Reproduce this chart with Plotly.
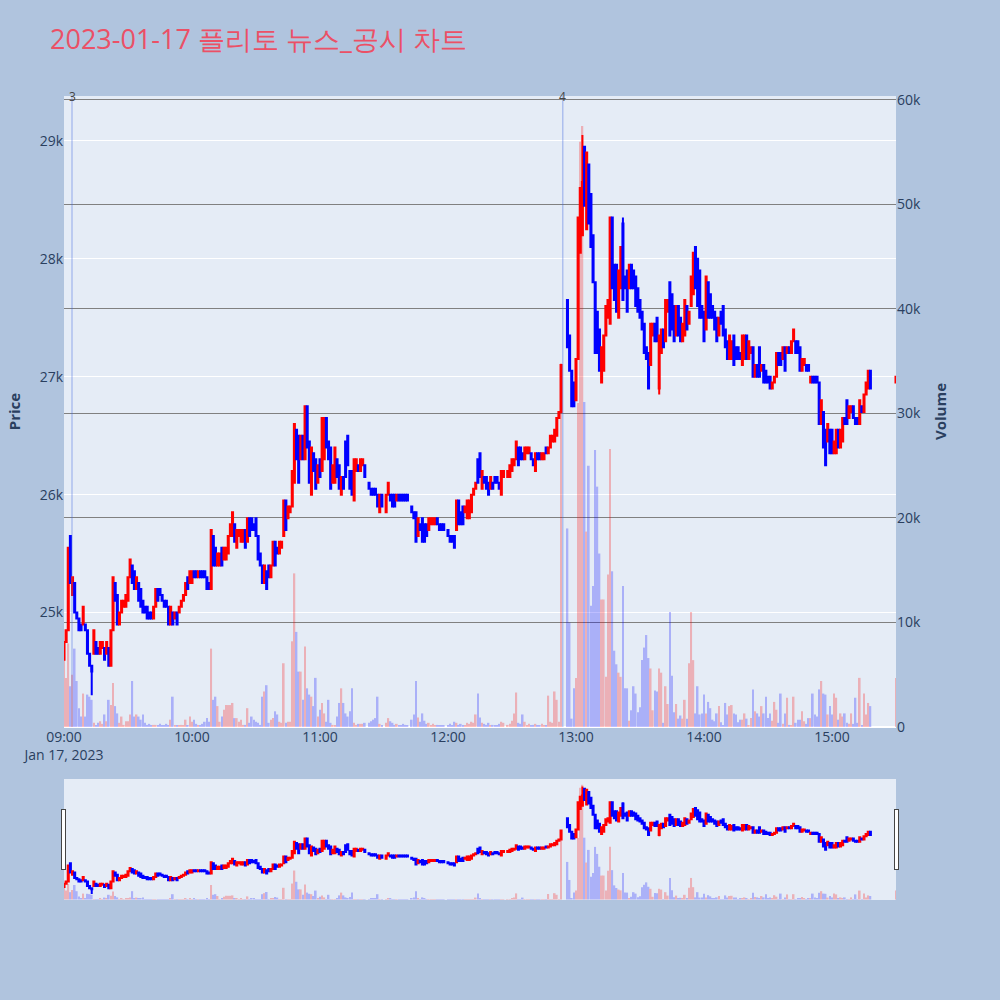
import numpy as np
import pandas as pd
import plotly.graph_objects as go
from plotly.subplots import make_subplots

title_text = "2023-01-17 플리토 뉴스_공시 차트"
session_start = "2023-01-17 09:00"

# 1-minute candles 09:00 ~ 15:18 (None = no trade that minute)
opens = [
    24600, 24750, 24850, 25650, 25150, 25250, 25000, 24950, 24900, 24900,
    24900, 24850, 24650, 24550, 24650, 24750, 24700, 24650, 24700, 24700,
    24650, 24700, 24550, 24850, 25250, 25150, 24900, 25000, 25050, 25050,
    25100, 25300, 25400, 25350, 25200, 25250, 25200, 25100, 25050, 25050,
    25000, 25000, 24950, 25050, 25200, 25200, 25150, 25100, 25100, 25050,
    24900, 25000, 24950, 25000, 25000, 25050, 25100, 25150, 25300, 25250,
    25250, 25350, 25350, 25300, 25350, 25350, 25350, 25300, 25250, 25200,
    25650, 25550, 25400, 25400, 25550, 25450, 25450, 25500, 25650, 25650,
    25750, 25550, 25650, 25600, 25600, 25700, 25600, 25800, 25800, 25750,
    25800, 25650, 25500, 25400, 25250, 25350, 25400, 25300, 25400, 25600,
    25550, 25500, 25550, 25650, 25950, 25800, 25850, 25900, 26100, 26550,
    26500, 26300, 26500, 26300, 26750, 26450, 26000, 26350, 26300, 26100,
    26300, 26200, 26300, 26650, 26450, 26400, 26100, 26100, 26300, 26250,
    26000, 26150, 26450, 26500, 26200, 26200, 25950, 26200, 26250, 26200,
    26250, 26250, None, 26100, 26050, 26050, 26050, 26000, 25850, 26000,
    None, 25850, 26000, 26000, 26000, 26000, 25950, 26000, 26000, 26000,
    26000, 26000, None, 25900, 25850, 25850, 25650, 25750, 25800, 25750,
    25750, 25700, 25750, 25750, 25750, 25800, 25750, 25750, 25750, None,
    25700, 25650, 25650, 25650, 25700, 25950, 25850, 25900, 25850, 25800,
    25800, 25850, 26000, 26050, 26300, 26350, 26050, 26150, 26150, 26100,
    26050, 26100, 26150, 26150, 26100, 26000, 26150, None, 26150, 26150,
    26200, 26250, 26300, 26400, 26400, 26350, 26300, 26350, 26350, 26350,
    26300, 26200, 26350, 26350, 26300, 26300, 26400, 26350, 26400, 26450,
    26450, 26500, 26650, 26700, None, None, 27650, 27350, 27050, 26950,
    26800, 27150, 28050, 28200, 28950, 28250, 28800, 28550, 28200, 27800,
    27550, 27400, 26950, 27050, 27350, 27500, 27450, 28350, 27950, 27950,
    27500, 27750, 28300, 27850, 27900, 27750, 27950, 27900, 27850, 27750,
    27650, 27550, 27450, 27250, 27200, 27100, 27350, 27450, 27500, 26900,
    27200, 27400, 27300, 27550, 27800, 27700, 27600, 27350, 27600, 27500,
    27300, 27350, 27600, 27450, 27600, 27700, 28100, 28000, 27900, 27600,
    27550, 27400, 27800, 27700, 27600, 27550, 27500, 27350, 27550, 27600,
    27400, 27300, 27150, 27150, 27350, 27250, 27250, 27200, 27100, 27150,
    27350, 27150, 27200, 27250, 27000, 27100, 27250, 27050, 27100, 27050,
    27000, 27000, 26900, 26950, 27000, 27200, 27200, 27150, 27250, 27200,
    27250, 27200, 27300, 27300, 27300, 27250, 27050, 27100, 27100, 27100,
    26950, 27000, 27000, 27000, 26950, 26600, 26700, 26550, 26450, 26550,
    26550, 26350, 26350, 26550, 26400, 26450, 26650, 26800, 26650, 26700,
    26750, 26650, 26650, 26600, 26750, 26700, 26850, 26900, 27050,
]
closes = [
    24750, 24850, 25550, 25250, 25300, 25000, 24950, 24850, 24850, 25050,
    24850, 24650, 24550, 24500, 24850, 24650, 24650, 24750, 24750, 24600,
    24750, 24550, 24850, 25300, 25100, 24900, 25000, 25100, 25100, 25150,
    25300, 25450, 25250, 25200, 25300, 25100, 25050, 25000, 25000, 24950,
    24950, 24950, 25050, 25200, 25100, 25150, 25100, 25050, 25050, 24900,
    25050, 24900, 25000, 24900, 25050, 25100, 25150, 25250, 25200, 25350,
    25350, 25300, 25300, 25350, 25300, 25300, 25300, 25200, 25200, 25700,
    25400, 25400, 25500, 25500, 25400, 25550, 25550, 25650, 25750, 25850,
    25600, 25700, 25700, 25700, 25700, 25550, 25800, 25650, 25700, 25700,
    25650, 25450, 25400, 25250, 25400, 25200, 25300, 25400, 25600, 25400,
    25500, 25600, 25600, 25950, 25700, 25900, 25900, 26200, 26600, 26300,
    26100, 26500, 26300, 26750, 26400, 26100, 26400, 26200, 26050, 26250,
    26150, 26650, 26650, 26400, 26300, 26050, 26250, 26400, 26150, 26050,
    26150, 26050, 26150, 26250, 26050, 26000, 26300, 26300, 26200, 26300,
    26300, 26150, None, 26050, 26000, 26000, 26000, 25900, 26000, 25900,
    None, 26000, 26100, 25950, 25900, 25900, 26000, 25950, 25950, 25950,
    25950, 25950, None, 25850, 25800, 25600, 25800, 25700, 25600, 25600,
    25650, 25800, 25800, 25800, 25800, 25750, 25700, 25700, 25700, None,
    25650, 25600, 25600, 25550, 25950, 25750, 25750, 25750, 25900, 25950,
    25950, 26000, 26050, 26100, 26100, 26150, 26200, 26100, 26050, 26000,
    26150, 26050, 26100, 26100, 26050, 26200, 26200, None, 26200, 26250,
    26300, 26300, 26450, 26250, 26300, 26300, 26400, 26400, 26400, 26300,
    26250, 26350, 26300, 26300, 26350, 26350, 26350, 26400, 26500, 26500,
    26550, 26650, 26700, 27100, None, None, 27250, 27050, 26750, 26750,
    27150, 28350, 28600, 28650, 28450, 28900, 28300, 28100, 27800, 27200,
    27200, 27050, 27250, 27350, 27600, 27650, 28350, 27750, 27650, 27550,
    27900, 28100, 27650, 27750, 27550, 27950, 27750, 27750, 27600, 27550,
    27500, 27400, 27200, 27150, 26900, 27450, 27450, 27300, 27300, 27350,
    27400, 27250, 27650, 27650, 27350, 27400, 27300, 27600, 27350, 27300,
    27450, 27650, 27400, 27550, 27850, 28050, 27750, 27600, 27500, 27500,
    27300, 27850, 27500, 27500, 27500, 27400, 27300, 27500, 27450, 27350,
    27250, 27150, 27350, 27300, 27100, 27150, 27150, 27150, 27350, 27350,
    27150, 27300, 27250, 27000, 27100, 27000, 27000, 27100, 26950, 26950,
    26950, 26900, 26950, 27000, 27200, 27100, 27100, 27250, 27050, 27250,
    27200, 27300, 27400, 27200, 27200, 27050, 27150, 27150, 27050, 27050,
    27000, 26950, 26950, 26950, 26600, 26800, 26400, 26250, 26600, 26350,
    26350, 26450, 26550, 26400, 26550, 26650, 26600, 26600, 26750, 26750,
    26650, 26600, 26600, 26800, 26700, 26850, 26950, 27050, 26900,
]
volumes = [
    6400, 4700, 8000, 3900, 5000, 7500, 4400, 1800, 1000, 3200,
    1000, 3100, 2900, 2600, 400, 200, 400, 550, 300, 1200,
    550, 2600, 2100, 4200, 2000, 1300, 400, 1000, 200, 550,
    550, 1200, 4400, 1000, 1200, 1000, 700, 1200, 400, 200,
    300, 150, 200, 200, 100, 300, 100, 150, 300, 100,
    700, 2900, 200, 100, 150, 200, 100, 700, 150, 1000,
    500, 700, 300, 100, 150, 300, 500, 850, 500, 7500,
    2600, 2900, 2000, 500, 1000, 1650, 2100, 2100, 2100, 2300,
    850, 850, 500, 700, 200, 200, 1800, 400, 1000, 700,
    500, 400, 200, 2900, 3400, 4000, 400, 700, 850, 1500,
    1200, 500, 400, 6100, 400, 500, 500, 8200, 14700, 9100,
    5300, 5300, 2600, 7700, 3700, 3100, 2900, 2000, 4700, 1000,
    1650, 2300, 1300, 500, 2600, 400, 200, 200, 1000, 2300,
    3700, 2300, 1300, 1000, 1500, 3700, 400, 200, 300, 300,
    300, 400, 0, 400, 550, 700, 850, 2900, 300, 200,
    0, 400, 850, 550, 400, 200, 300, 200, 150, 300,
    200, 150, 0, 700, 1200, 4400, 900, 500, 1300, 600,
    300, 400, 200, 300, 150, 200, 100, 150, 100, 0,
    200, 300, 150, 500, 400, 200, 300, 150, 200, 400,
    300, 500, 400, 1200, 3200, 900, 400, 300, 200, 400,
    150, 200, 100, 150, 300, 500, 400, 0, 200, 300,
    600, 1300, 3300, 400, 300, 1200, 500, 200, 300, 150,
    200, 300, 150, 100, 300, 200, 200, 3000, 500, 400,
    3400, 2600, 500, 34800, 0, 0, 19000, 10000, 800, 3700,
    4700, 31000, 56000, 57500, 31100, 18700, 25000, 11600, 13500, 26500,
    23000, 16600, 12200, 12200, 4800, 14600, 26600, 14900, 7300, 6000,
    5200, 4800, 13500, 3700, 3700, 600, 1600, 3900, 3200, 1400,
    1900, 6400, 7600, 8800, 6600, 5600, 1600, 3500, 3400, 5600,
    5200, 400, 3900, 2200, 11000, 4900, 1400, 2200, 800, 1100,
    800, 2600, 800, 6100, 11000, 6400, 1300, 3900, 1200, 1300,
    3100, 1300, 2400, 1800, 700, 550, 1300, 2000, 450, 100,
    2300, 1200, 2000, 2100, 1300, 1200, 450, 700, 700, 1300,
    800, 100, 850, 3600, 1500, 1300, 1000, 2000, 1300, 2900,
    850, 1300, 600, 2400, 1650, 400, 3200, 300, 1300, 2800,
    200, 100, 2900, 400, 700, 700, 1500, 550, 300, 850,
    850, 3200, 1200, 1000, 3600, 4400, 3200, 3100, 1200, 2000,
    1200, 3200, 2800, 700, 1300, 1000, 1300, 400, 300, 1300,
    300, 2800, 400, 4700, 100, 3200, 1200, 2300, 2000,
]

# wicks that stick out of the body (minute index -> price)
wick_high = {243: 29050, 262: 28350}
wick_low = {13: 24300, 279: 26850, 357: 26250}

# 15:30 closing auction
auction_time = "2023-01-17 15:30"
auction_open, auction_close, auction_volume = 26950, 27000, 4700

news_times = ["2023-01-17 09:03:45", "2023-01-17 12:53:50"]
news_labels = ["3", "4"]

times = pd.date_range(session_start, periods=len(closes), freq="min")
df = pd.DataFrame({"open": opens, "close": closes, "volume": volumes}, index=times, dtype=float)
df["high"] = df[["open", "close"]].max(axis=1)
df["low"] = df[["open", "close"]].min(axis=1)
for i, v in wick_high.items():
    df.iloc[i, df.columns.get_loc("high")] = v
for i, v in wick_low.items():
    df.iloc[i, df.columns.get_loc("low")] = v
df.loc[pd.Timestamp(auction_time)] = [auction_open, auction_close, auction_volume,
                                      max(auction_open, auction_close), min(auction_open, auction_close)]
df = df.dropna()

bar_colors = np.where(df["close"] >= df["open"], "red", "blue")

fig = make_subplots(specs=[[{"secondary_y": True}]])
fig.add_trace(go.Candlestick(
    x=df.index, open=df["open"], high=df["high"], low=df["low"], close=df["close"],
    increasing_line_color="red", increasing_fillcolor="red",
    decreasing_line_color="blue", decreasing_fillcolor="blue",
    name="Price",
), secondary_y=False)
fig.add_trace(go.Bar(
    x=df.index, y=df["volume"], marker_color=bar_colors, marker_line_width=0,
    opacity=0.25, name="Volume",
), secondary_y=True)

# news / disclosure markers
for t, label in zip(news_times, news_labels):
    fig.add_shape(type="line", x0=t, x1=t, y0=0, y1=1, xref="x", yref="paper",
                  line=dict(color="royalblue", width=1), opacity=0.5)
    fig.add_annotation(x=t, y=1, xref="x", yref="paper", text=label, showarrow=False,
                       yanchor="middle", font=dict(size=12, color="#444"))

fig.update_layout(
    width=1000, height=1000,
    font=dict(size=14),
    title=dict(text=title_text, x=0.05, y=0.96, yanchor="middle",
               font=dict(size=27, color="#EB5066")),
    paper_bgcolor="lightsteelblue",
    showlegend=False,
    margin=dict(l=64, r=104, t=96, b=100),
)
fig.update_xaxes(
    domain=[0, 1],
    range=[session_start, auction_time],
    rangeslider=dict(visible=True, bgcolor="#E5ECF6", range=[session_start, auction_time]),
)
fig.update_yaxes(title_text="<b>Price</b>", title_font_size=15, automargin=False,
                 range=[24030, 29380], secondary_y=False)
fig.update_yaxes(title_text="<b>Volume</b>", title_font_size=15, automargin=False,
                 range=[0, 60380], showgrid=True, gridcolor="gray", secondary_y=True)

fig.write_html("out.html", config={"displayModeBar": False},
               post_script="document.body.style.margin = '0';")
